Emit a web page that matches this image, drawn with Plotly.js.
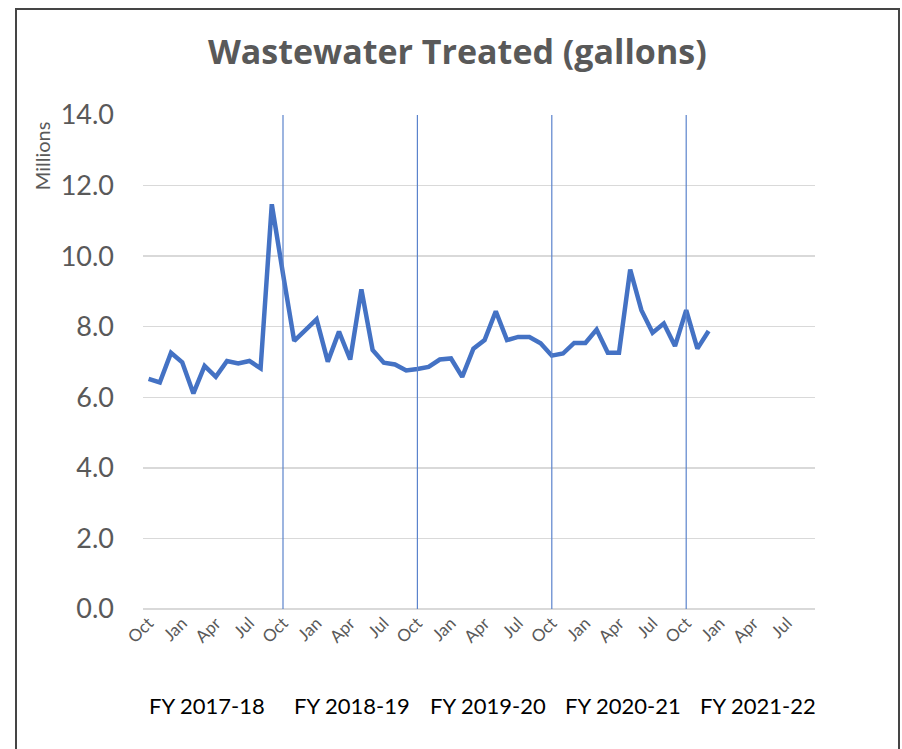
<!DOCTYPE html>
<html>
<head>
<meta charset="utf-8">
<script src="https://cdn.plot.ly/plotly-3.0.1.min.js"></script>
<style>
  html, body { margin: 0; padding: 0; background: #ffffff; }
  #wrap { position: relative; width: 902px; height: 749px; overflow: hidden; }
  #chart { position: absolute; left: 0; top: 0; width: 902px; height: 749px; }
  #frame { position: absolute; left: 15px; top: 8px; width: 885px; height: 800px;
           box-sizing: border-box; border: 2px solid #454545; border-bottom: none; pointer-events: none; }
</style>
</head>
<body>
<div id="wrap">
  <div id="chart"></div>
  <div id="frame"></div>
</div>
<script>
// ---- data ----
const monthNames = ["Oct","Nov","Dec","Jan","Feb","Mar","Apr","May","Jun","Jul","Aug","Sep"];
const fiscalYears = ["FY 2017-18","FY 2018-19","FY 2019-20","FY 2020-21","FY 2021-22"];
// wastewater treated, millions of gallons, Oct 2017 .. Dec 2021
const wastewaterMillions = [
  6.52, 6.42, 7.26, 6.99, 6.11, 6.89, 6.58, 7.03, 6.96, 7.03, 6.82, 11.47,
  9.50, 7.60, 7.90, 8.21, 7.01, 7.86, 7.07, 9.06, 7.34, 6.98, 6.93, 6.76,
  6.80, 6.86, 7.07, 7.10, 6.58, 7.38, 7.62, 8.44, 7.62, 7.71, 7.71, 7.53,
  7.18, 7.24, 7.54, 7.54, 7.92, 7.26, 7.26, 9.62, 8.47, 7.83, 8.09, 7.45,
  8.47, 7.38, 7.88
];
const yTickValues = [0, 2, 4, 6, 8, 10, 12, 14];
const tickMonths = ["Oct","Jan","Apr","Jul"];

// ---- build categories (one per month, 5 fiscal years) ----
const categories = [];
const catMonth = [];
fiscalYears.forEach((fy) => {
  monthNames.forEach((m) => { categories.push(m + " " + fy); catMonth.push(m); });
});
const tickvals = categories.filter((c, i) => tickMonths.includes(catMonth[i]));
const ticktext = tickvals.map((c) => c.split(" ")[0]);
const xData = categories.slice(0, wastewaterMillions.length);

// fiscal-year start lines (from the 2nd FY on)
const fyStarts = fiscalYears.slice(1).map((fy) => "Oct " + fy);

// layout positions for FY labels (category index units)
const fyLabelX = [5.2, 18.2, 30.3, 42.4, 54.4];

const FONT = "Lato, 'Open Sans', sans-serif";
const TITLE_FONT = "'Open Sans', Lato, sans-serif";
const GRAY = "#595959";
const BLUE = "#4472C4";

const shapes = fyStarts.map((c) => ({
  type: "line", xref: "x", yref: "y", x0: c, x1: c, y0: 0, y1: 14,
  line: { color: "#5B83CC", width: 1.2 }, layer: "above"
}));

const annotations = fiscalYears.map((fy, k) => ({
  text: fy, xref: "x", yref: "paper", x: fyLabelX[k], y: -0.196,
  xanchor: "center", yanchor: "middle", showarrow: false,
  font: { family: FONT, size: 22, color: "#000000" }
}));
annotations.push({
  text: "Millions", xref: "paper", yref: "paper", x: -0.150, y: 0.917,
  xanchor: "center", yanchor: "middle", textangle: -90, showarrow: false,
  font: { family: FONT, size: 20, color: GRAY }
});

const trace = {
  type: "scatter", mode: "lines", x: xData, y: wastewaterMillions,
  line: { color: BLUE, width: 4.5 }, hoverinfo: "skip"
};

const layout = {
  width: 902, height: 749,
  margin: { l: 143, r: 87, t: 115, b: 140 },
  paper_bgcolor: "rgba(0,0,0,0)", plot_bgcolor: "#ffffff",
  showlegend: false,
  title: {
    text: "<b>Wastewater Treated (gallons)</b>",
    x: 0.507, xref: "container", xanchor: "center",
    y: 0.930, yref: "container", yanchor: "middle",
    font: { family: TITLE_FONT, size: 34, color: GRAY }
  },
  xaxis: {
    type: "category", categoryorder: "array", categoryarray: categories,
    range: [-0.5, categories.length - 0.5],
    tickmode: "array", tickvals: tickvals, ticktext: ticktext, tickangle: -45,
    tickfont: { family: FONT, size: 17, color: GRAY },
    showgrid: false, zeroline: false, showline: false, ticks: ""
  },
  yaxis: {
    range: [0, 14], tickmode: "array", tickvals: yTickValues, tickformat: ".1f",
    tickfont: { family: FONT, size: 27, color: GRAY },
    ticklabelstandoff: 28,
    showgrid: true, gridcolor: "#D9D9D9", gridwidth: 1.5,
    zeroline: true, zerolinecolor: "#D9D9D9", zerolinewidth: 1.5,
    showline: false, ticks: ""
  },
  shapes: shapes,
  annotations: annotations
};

Plotly.newPlot("chart", [trace], layout, { staticPlot: true, displayModeBar: false });
</script>
</body>
</html>
